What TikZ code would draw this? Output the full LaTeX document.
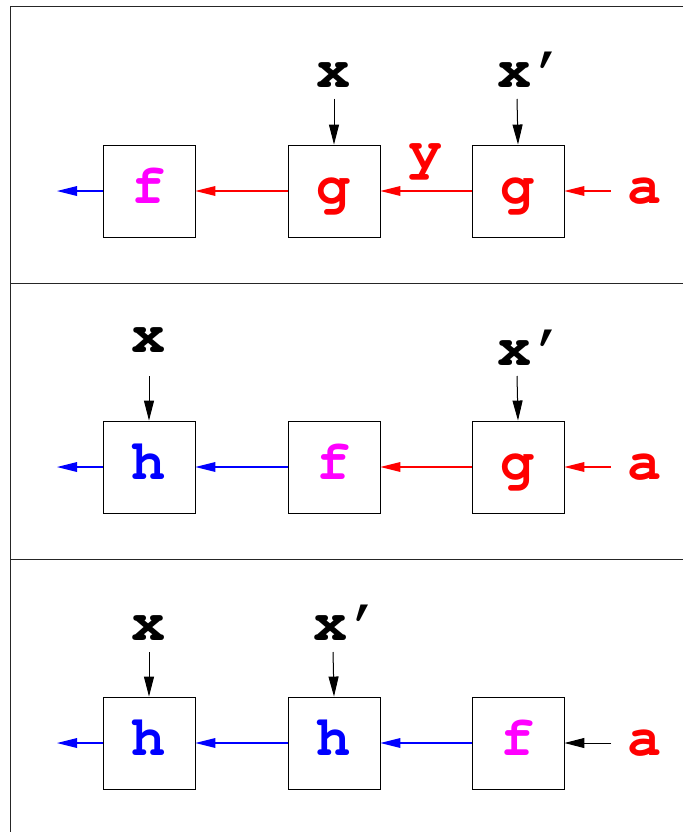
\documentclass[tikz,border=0pt]{standalone}
\usepackage[T1]{fontenc}
\usetikzlibrary{arrows.meta,calc}
\definecolor{mag}{RGB}{255,0,255}
\definecolor{rd}{RGB}{255,0,0}
\definecolor{bl}{RGB}{0,0,255}
\newcommand\cfont{\fontencoding{T1}\fontfamily{pcr}\fontseries{b}\fontshape{n}\fontsize{57}{57}\selectfont}
% coloured leftward connector from #2 (right end) to #3 (tip), colour #1
\newcommand\lconn[3]{%
  \fill[#1] ($(#2)+(0,-0.65)$) rectangle ($(#3)+(16,0.65)$);
  \fill[#1] (#3) -- ($(#3)+(20,-5)$) -- ($(#3)+(20,5)$) -- cycle;}
\begin{document}
\begin{tikzpicture}[x=1pt,y=-1pt,
  frame/.style={line width=1pt, draw=black!85},
  box/.style={draw, line width=0.9pt, minimum width=92pt, minimum height=92pt, inner sep=0pt},
  lbl/.style={font=\cfont, anchor=base, inner sep=0pt},
  kconn/.style={line width=1pt, draw=black, fill=black, -{Triangle[length=20pt,width=10pt]}},
  fcol/.style={text=mag},
  gcol/.style={text=rd},
  hcol/.style={text=bl}]
\useasboundingbox (0,0) rectangle (683,832);
% frame
\draw[frame] (683,7) -- (10,7) -- (10,832);
\draw[frame] (10,283) -- (683,283);
\draw[frame] (10,559) -- (683,559);

% ---------- row 1 ----------
\node[box] (b11) at (149,191) {};
\node[box] (b12) at (334,191) {};
\node[box] (b13) at (518,191) {};
\node[lbl,fcol] (t11) at (149,203.5) {f};
\node[lbl,gcol] (t12) at (334,203.5) {g};
\node[lbl,gcol] (t13) at (518,203.5) {g};
\node[lbl,text=rd] (a1) at (645,203.5) {a};
\node[lbl,text=rd] (y1) at (426,168) {y};
\node[lbl] (x11) at (334,88) {x};
\node[lbl] (x12) at (515,88) {x\rlap{'}};
\coordinate (o1) at (57,191);
\coordinate (i1) at (611,191);
\coordinate (d11) at (334,99);
\coordinate (d12) at (517,99);
\lconn{bl}{b11.west}{o1}
\lconn{rd}{b12.west}{b11.east}
\lconn{rd}{b13.west}{b12.east}
\lconn{rd}{i1}{b13.east}
\draw[kconn] (d11) -- (b12.north);
\draw[kconn] (d12) -- (b13.north);

% ---------- row 2 ----------
\node[box] (b21) at (149,467) {};
\node[box] (b22) at (334,467) {};
\node[box] (b23) at (518,467) {};
\node[lbl,hcol] (t21) at (149,479.5) {h};
\node[lbl,fcol] (t22) at (334,479.5) {f};
\node[lbl,gcol] (t23) at (518,479.5) {g};
\node[lbl,text=rd] (a2) at (645,479.5) {a};
\node[lbl] (x21) at (149,352) {x};
\node[lbl] (x22) at (515,365) {x\rlap{'}};
\coordinate (o2) at (57,467);
\coordinate (i2) at (611,467);
\coordinate (d21) at (149,376);
\coordinate (d22) at (517,376);
\lconn{bl}{b21.west}{o2}
\lconn{bl}{b22.west}{b21.east}
\lconn{rd}{b23.west}{b22.east}
\lconn{rd}{i2}{b23.east}
\draw[kconn] (d21) -- (b21.north);
\draw[kconn] (d22) -- (b23.north);

% ---------- row 3 ----------
\node[box] (b31) at (149,743) {};
\node[box] (b32) at (334,743) {};
\node[box] (b33) at (518,743) {};
\node[lbl,hcol] (t31) at (149,755.5) {h};
\node[lbl,hcol] (t32) at (334,755.5) {h};
\node[lbl,fcol] (t33) at (518,755.5) {f};
\node[lbl,text=rd] (a3) at (645,755.5) {a};
\node[lbl] (x31) at (149,640) {x};
\node[lbl] (x32) at (331,640) {x\rlap{'}};
\coordinate (o3) at (57,743);
\coordinate (i3) at (611,743);
\coordinate (d31) at (149,652);
\coordinate (d32) at (333,652);
\lconn{bl}{b31.west}{o3}
\lconn{bl}{b32.west}{b31.east}
\lconn{bl}{b33.west}{b32.east}
\draw[kconn] (i3) -- (b33.east);
\draw[kconn] (d31) -- (b31.north);
\draw[kconn] (d32) -- (b32.north);
\end{tikzpicture}
\end{document}
